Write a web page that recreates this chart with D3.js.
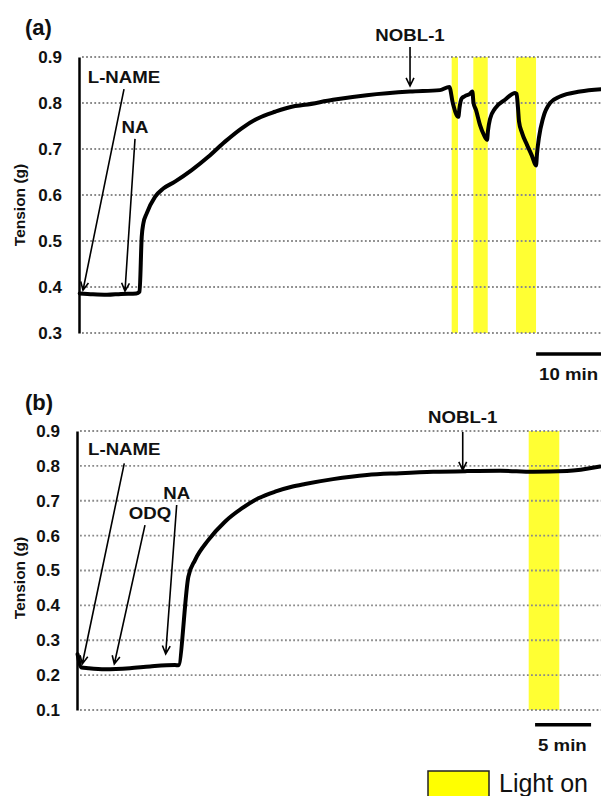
<!DOCTYPE html>
<html>
<head>
<meta charset="utf-8">
<script src="https://cdn.jsdelivr.net/npm/d3@7"></script>
<style>
  body { margin: 0; background: #fff; }
  text { font-family: "Liberation Sans", Arial, sans-serif; }
</style>
</head>
<body>
<script>
// time in minutes, tension in g
const traceA = [
  [0.1, 0.386], [2, 0.384], [4, 0.383], [6, 0.385], [8.2, 0.386], [8.65, 0.39],
  [8.96, 0.509], [9.19, 0.538], [9.67, 0.56], [10.86, 0.596], [12.04, 0.614],
  [13.71, 0.629], [16.1, 0.654], [18.47, 0.683], [20.86, 0.716], [23.24, 0.745],
  [25.61, 0.767], [28.0, 0.781], [30.39, 0.792], [32.29, 0.796], [36.29, 0.807],
  [41.1, 0.817], [47.29, 0.825], [51.57, 0.828], [52.9, 0.835], [53.4, 0.80],
  [54.19, 0.77], [54.36, 0.79], [54.67, 0.81], [55.14, 0.815], [55.86, 0.82],
  [56.19, 0.825], [56.36, 0.80], [56.71, 0.785], [57.29, 0.752], [57.86, 0.73],
  [58.29, 0.72], [58.43, 0.74], [58.71, 0.765], [59.43, 0.788], [60.86, 0.807],
  [62.29, 0.822], [62.5, 0.82], [62.71, 0.79], [62.86, 0.76], [63.29, 0.735],
  [64.0, 0.709], [64.71, 0.685], [65.29, 0.664], [65.43, 0.69], [65.71, 0.725],
  [66.29, 0.767], [67.29, 0.80], [68.71, 0.814], [71.57, 0.825], [74.6, 0.83]
]
const traceB = [
  [0.05, 0.26], [0.4, 0.222], [1, 0.22], [2.5, 0.217], [4.73, 0.22], [6.52, 0.225],
  [8.75, 0.229], [9.04, 0.228], [9.94, 0.482], [10.54, 0.53], [11.72, 0.587],
  [13.21, 0.64], [14.71, 0.678], [16.19, 0.707], [17.68, 0.726], [19.17, 0.74],
  [20.36, 0.748], [22.86, 0.762], [25.89, 0.774], [28.84, 0.779], [31.79, 0.783],
  [34.82, 0.785], [37.77, 0.786], [40.71, 0.783], [43.75, 0.785], [46.7, 0.798]
]

// light-on periods [start, end] in minutes
const lightA = [[53.24, 54.14], [56.33, 58.39], [62.43, 65.29]]
const lightB = [[40.33, 43.06]]

const ticksA = [0.3, 0.4, 0.5, 0.6, 0.7, 0.8, 0.9]
const ticksB = [0.1, 0.2, 0.3, 0.4, 0.5, 0.6, 0.7, 0.8, 0.9]

// drug additions: arrow tip and tail as [min, g]
const notesA = [
  {label: 'L-NAME', tip: [0.57, 0.393], tail: [6.43, 0.830]},
  {label: 'NA', tip: [6.57, 0.391], tail: [8.0, 0.722]},
  {label: 'NOBL-1', tip: [47.29, 0.837], tail: [47.29, 0.922]}
]
const notesB = [
  {label: 'L-NAME', tip: [0.47, 0.232], tail: [4.22, 0.807], dy: -8},
  {label: 'ODQ', tip: [3.33, 0.232], tail: [6.07, 0.630], dx: 5},
  {label: 'NA', tip: [7.92, 0.261], tail: [8.90, 0.688]},
  {label: 'NOBL-1', tip: [34.44, 0.788], tail: [34.44, 0.897], dy: -9.5}
]

const scaleBarA = {start: 65.3, minutes: 10}
const scaleBarB = {start: 40.9, minutes: 5}

const YELLOW = '#ffff33'
const W = 601, H = 796

const svg = d3.select('body').append('svg').attr('width', W).attr('height', H)
svg.append('rect').attr('width', W).attr('height', H).attr('fill', '#fff')

function boldText(g, x, y, str, size, anchor) {
    return g.append('text')
        .attr('transform', `translate(${x},${y}) scale(1.13,1)`)
        .attr('text-anchor', anchor || 'start')
        .style('font-size', size + 'px')
        .style('font-weight', 'bold')
        .attr('fill', '#111')
        .text(str)
}

function drawPanel(p) {
    const x = d3.scaleLinear().domain(p.xDomain).range([p.left, p.right])
    const y = d3.scaleLinear().domain(d3.extent(p.ticks)).range([p.bottom, p.top])
    const g = svg.append('g')

    g.append('g')
        .selectAll()
        .data(p.light)
        .enter()
        .append('rect')
        .attr('x', d => x(d[0]))
        .attr('width', d => x(d[1]) - x(d[0]))
        .attr('y', p.top)
        .attr('height', p.bottom - p.top)
        .attr('fill', YELLOW)

    g.append('g')
        .selectAll()
        .data(p.ticks)
        .enter()
        .append('line')
        .attr('x1', p.left + 3)
        .attr('x2', W)
        .attr('y1', d => y(d))
        .attr('y2', d => y(d))
        .attr('stroke', '#8a8a8a')
        .attr('stroke-width', 1.8)
        .attr('stroke-dasharray', '1.8 2.3')

    const axis = g.append('g')
        .attr('transform', `translate(${p.left},0)`)
        .call(d3.axisLeft(y).tickValues(p.ticks).tickFormat(d3.format('.1f')).tickSize(0).tickSizeOuter(0).tickPadding(17))
    axis.select('.domain').attr('stroke', '#000').attr('stroke-width', 2.5)
    axis.selectAll('text')
        .style('font-family', '"Liberation Sans", Arial, sans-serif')
        .style('font-size', '17px')
        .style('font-weight', 'bold')
        .attr('fill', '#111')

    g.append('text')
        .attr('transform', `translate(25,${p.labelY}) rotate(-90)`)
        .attr('text-anchor', 'middle')
        .style('font-size', '15.5px')
        .style('font-weight', 'bold')
        .attr('fill', '#111')
        .text('Tension (g)')

    g.append('text')
        .attr('x', 25)
        .attr('y', p.top - p.letterDy)
        .style('font-size', '22px')
        .style('font-weight', 'bold')
        .attr('fill', '#111')
        .text(p.letter)

    g.append('path')
        .datum(p.trace)
        .attr('fill', 'none')
        .attr('stroke', '#000')
        .attr('stroke-width', 4)
        .attr('stroke-linejoin', 'round')
        .attr('stroke-linecap', 'round')
        .attr('d', d3.line().x(d => x(d[0])).y(d => y(d[1])).curve(d3.curveMonotoneX))

    // arrows
    p.notes.forEach(n => {
        const tx = x(n.tip[0]), ty = y(n.tip[1])
        const sx = x(n.tail[0]), sy = y(n.tail[1])
        const ang = Math.atan2(ty - sy, tx - sx)
        const len = 9, spread = 0.45
        const a1 = [tx - len * Math.cos(ang - spread), ty - len * Math.sin(ang - spread)]
        const a2 = [tx - len * Math.cos(ang + spread), ty - len * Math.sin(ang + spread)]
        g.append('path')
            .attr('d', `M${sx},${sy}L${tx},${ty}M${a1[0]},${a1[1]}L${tx},${ty}L${a2[0]},${a2[1]}`)
            .attr('fill', 'none')
            .attr('stroke', '#000')
            .attr('stroke-width', 1.6)
        boldText(g, sx + (n.dx || 0), sy + (n.dy || -6), n.label, 16.5, 'middle')
    })

    // time scale bar
    const bx1 = x(p.bar.start), bx2 = x(p.bar.start + p.bar.minutes)
    g.append('line')
        .attr('x1', bx1).attr('x2', bx2)
        .attr('y1', p.barY).attr('y2', p.barY)
        .attr('stroke', '#000')
        .attr('stroke-width', 3.5)
    boldText(g, bx1 + 3, p.barY + 26, p.bar.minutes + ' min', 16.5, 'start')
}

drawPanel({
    letter: '(a)', letterDy: 22, trace: traceA, light: lightA, ticks: ticksA, notes: notesA,
    xDomain: [0, 75], left: 79, right: 604, top: 57, bottom: 333,
    labelY: 205, bar: scaleBarA, barY: 354
})

drawPanel({
    letter: '(b)', letterDy: 21, trace: traceB, light: lightB, ticks: ticksB, notes: notesB,
    xDomain: [0, 47], left: 77, right: 603.4, top: 431, bottom: 710,
    labelY: 578, bar: scaleBarB, barY: 724.7
})

// legend
const legend = svg.append('g')
legend.append('rect')
    .attr('x', 428).attr('y', 771)
    .attr('width', 61).attr('height', 32)
    .attr('fill', '#ffff00')
    .attr('stroke', '#222')
    .attr('stroke-width', 1.5)
legend.append('text')
    .attr('x', 499).attr('y', 792)
    .style('font-size', '25px')
    .attr('fill', '#111')
    .text('Light on')
</script>
</body>
</html>
